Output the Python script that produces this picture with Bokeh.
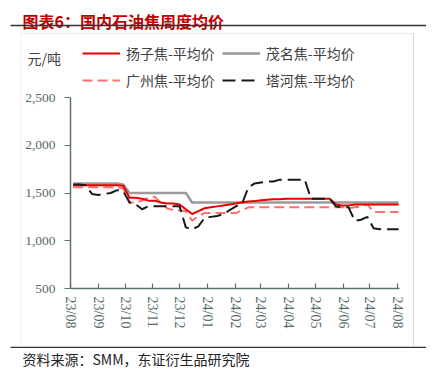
import pandas as pd
from bokeh.plotting import figure
from bokeh.layouts import column, row
from bokeh.models import (Range1d, FixedTicker, NumeralTickFormatter, DatetimeTickFormatter,
                          Legend, LegendItem, Label, BoxAnnotation)
from bokeh.embed import file_html
from bokeh.resources import INLINE

# ---- data (weekly) ----
weeks = pd.date_range("2023-08-04", periods=53, freq="7D")

yangzi = [1580, 1580, 1580, 1580, 1580, 1580, 1580, 1580, 1575, 1450,
          1450, 1440, 1420, 1420, 1400, 1390, 1390, 1380, 1330, 1280,
          1310, 1340, 1350, 1360, 1370, 1380, 1390, 1400, 1410, 1415,
          1425, 1430, 1435, 1435, 1440, 1440, 1440, 1440, 1440, 1440,
          1440, 1440, 1380, 1370, 1370, 1380, 1380, 1380, 1380, 1380,
          1380, 1380, 1380]
maoming = [1600, 1600, 1600, 1600, 1600, 1600, 1600, 1600, 1590, 1500,
           1500, 1500, 1500, 1500, 1500, 1500, 1500, 1500, 1500, 1400,
           1400, 1400, 1400, 1400, 1400, 1400, 1400, 1400, 1400, 1400,
           1400, 1400, 1400, 1400, 1400, 1400, 1400, 1400, 1400, 1400,
           1400, 1400, 1400, 1400, 1400, 1400, 1400, 1400, 1400, 1400,
           1400, 1400, 1400]
guangzhou = [1560, 1560, 1560, 1560, 1560, 1560, 1560, 1560, 1550, 1400,
             1400, 1420, 1450, 1460, 1400, 1340, 1320, 1320, 1310, 1210,
             1260, 1290, 1290, 1290, 1290, 1290, 1290, 1320, 1350, 1350,
             1350, 1350, 1350, 1350, 1350, 1350, 1350, 1350, 1350, 1350,
             1350, 1350, 1350, 1350, 1340, 1350, 1360, 1380, 1300, 1300,
             1300, 1300, 1300]
tahe = [1590, 1590, 1580, 1490, 1480, 1490, 1500, 1530, 1520, 1400,
        1380, 1330, 1360, 1360, 1360, 1360, 1360, 1360, 1140, 1120,
        1150, 1240, 1250, 1260, 1280, 1320, 1360, 1390, 1560, 1600,
        1610, 1620, 1620, 1640, 1640, 1640, 1640, 1640, 1440, 1440,
        1440, 1440, 1360, 1350, 1350, 1210, 1220, 1250, 1130, 1120,
        1120, 1120, 1120]

series_names = ["扬子焦-平均价", "茂名焦-平均价", "广州焦-平均价", "塔河焦-平均价"]
y_ticks = [500, 1000, 1500, 2000, 2500]
month_ticks = pd.date_range("2023-08-01", "2024-08-01", freq="MS")

title_text = "图表6：国内石油焦周度均价"
unit_text = "元/吨"
source_text = "资料来源：SMM，东证衍生品研究院"

CJK = "Noto Sans CJK SC"
SERIF = "Liberation Serif"
AXIS_C = "#5f7272"

series = [("yangzi", yangzi, dict(line_color="#e60000", line_width=2)),
          ("maoming", maoming, dict(line_color="#9a9a9a", line_width=2.5)),
          ("guangzhou", guangzhou, dict(line_color="#ff6f6f", line_width=2, line_dash="10 5")),
          ("tahe", tahe, dict(line_color="#1a1a1a", line_width=2, line_dash="13 6"))]


def blank(w, h, **kw):
    f = figure(width=w, height=h, output_backend="svg", toolbar_location=None,
               x_axis_location=None, y_axis_location=None,
               x_range=Range1d(0, 1), y_range=Range1d(0, 1), **kw)
    f.outline_line_color = None
    f.xgrid.visible = False
    f.ygrid.visible = False
    return f


def rule(f, l, r, t, b, color="#333333"):
    f.add_layout(BoxAnnotation(left=l, right=r, top=t, bottom=b,
                               left_units="screen", right_units="screen",
                               top_units="screen", bottom_units="screen",
                               fill_color=color, fill_alpha=1, line_alpha=0))


# ---- header: title + rule ----
head = blank(418, 25, min_border=0)
head.add_layout(Label(x=14, y=13, x_units="screen", y_units="screen", text=title_text,
                      text_font=CJK, text_font_size="16px", text_font_style="bold",
                      text_color="#c00000", text_baseline="middle"))
rule(head, 2, 418, 8.7, 7.2)

# ---- unit label + legend strip ----
unitf = blank(61, 56, min_border=0)
unitf.add_layout(Label(x=6, y=33, x_units="screen", y_units="screen", text=unit_text,
                       text_font=CJK, text_font_size="14px", text_color="#404040",
                       text_baseline="middle"))

legf = blank(331, 56, min_border_left=0, min_border_right=0,
             min_border_top=9, min_border_bottom=0)
# legend swatches: same series, drawn outside this strip's visible range
swatch = {k: legf.line(weeks, vals, **s) for k, vals, s in series}
legend = Legend(items=[LegendItem(label=series_names[0], renderers=[swatch["yangzi"]]),
                       LegendItem(label=series_names[1], renderers=[swatch["maoming"]]),
                       LegendItem(label=series_names[2], renderers=[swatch["guangzhou"]]),
                       LegendItem(label=series_names[3], renderers=[swatch["tahe"]])],
                location="top_left", orientation="horizontal", ncols=2,
                padding=0, margin=0, spacing=7, label_standoff=6,
                glyph_width=38, glyph_height=18, label_height=18,
                label_text_font=CJK, label_text_font_size="14px", label_text_color="#404040",
                border_line_alpha=0, background_fill_alpha=0)
legf.add_layout(legend, "center")

# ---- main chart ----
p = figure(width=392, height=256, output_backend="svg", toolbar_location=None,
           x_axis_type="datetime",
           x_range=Range1d(pd.Timestamp("2023-08-01"), pd.Timestamp("2024-08-03")),
           y_range=Range1d(500, 2500),
           min_border_left=49, min_border_right=14, min_border_top=7, min_border_bottom=58)
p.outline_line_color = None
p.xgrid.visible = False
p.ygrid.visible = False

p.yaxis.ticker = FixedTicker(ticks=y_ticks)
p.yaxis.formatter = NumeralTickFormatter(format="0,0")
p.xaxis.ticker = FixedTicker(ticks=[t.value // 10**6 for t in month_ticks])
fmt = "%y/%m"
p.xaxis.formatter = DatetimeTickFormatter(milliseconds=fmt, seconds=fmt, minsec=fmt, minutes=fmt,
                                          hourmin=fmt, hours=fmt, days=fmt, months=fmt, years=fmt)
p.xaxis.major_label_orientation = "vertical"
for ax in (p.xaxis, p.yaxis):
    ax.axis_line_color = AXIS_C
    ax.axis_line_width = 1.5
    ax.major_tick_line_color = AXIS_C
    ax.major_tick_line_width = 1.2
    ax.minor_tick_line_color = None
    ax.major_label_text_color = "#566a6a"
    ax.major_label_text_font = SERIF
p.xaxis.major_label_text_font_size = "14px"
p.yaxis.major_label_text_font_size = "13.5px"
p.xaxis.major_tick_in = 5
p.xaxis.major_tick_out = 0
p.xaxis.major_label_standoff = 8
p.yaxis.major_tick_in = 0
p.yaxis.major_tick_out = 6
p.yaxis.major_label_standoff = 9

order = ["maoming", "guangzhou", "yangzi", "tahe"]
lookup = {k: (vals, s) for k, vals, s in series}
for k in order:
    vals, s = lookup[k]
    p.line(weeks, vals, **s)

# ---- footer: rule + source ----
foot = blank(418, 28, min_border=0)
rule(foot, 2, 418, 28, 26.5)
foot.add_layout(Label(x=14, y=16, x_units="screen", y_units="screen", text=source_text,
                      text_font=CJK, text_font_size="14px", text_color="#222222",
                      text_baseline="middle"))

box = column(row(unitf, legf, spacing=0), p, spacing=0, margin=(0, 0, 0, 12),
             styles={"border-top": "1px solid #ececec", "border-left": "1px solid #f2f2f2",
                     "border-right": "1px solid #d9d9d9"})
layout = column(head, box, foot, spacing=0, margin=(8, 0, 0, 8))

open("out.html", "w").write(file_html(layout, INLINE))
